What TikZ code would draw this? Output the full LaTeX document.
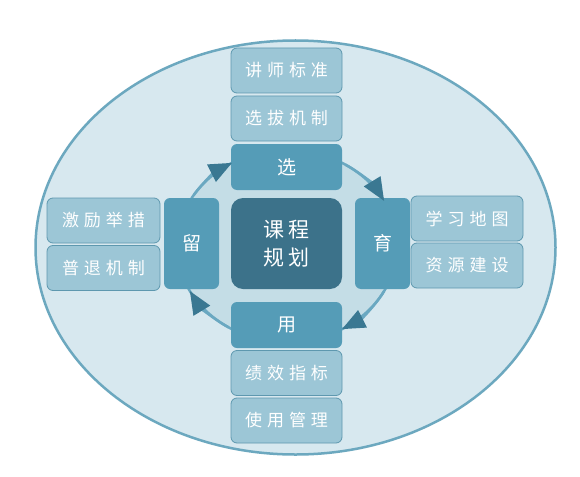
\documentclass[tikz,border=0pt]{standalone}
\usepackage{fontspec}
\newfontfamily\cjk{Noto Sans CJK SC}
\usetikzlibrary{arrows.meta}
\definecolor{outerfill}{HTML}{D7E8EF}
\definecolor{outerline}{HTML}{6CA8BF}
\definecolor{ringfill}{HTML}{C4DDE6}
\definecolor{ringline}{HTML}{6AA8C1}
\definecolor{midbox}{HTML}{559CB7}
\definecolor{darkbox}{HTML}{3C728A}
\definecolor{lightbox}{HTML}{9CC6D6}
\definecolor{lightline}{HTML}{5E98AF}
\definecolor{arrowcol}{HTML}{3A7892}
\newcommand{\gp}{\hspace{5pt}}
\begin{document}
\begin{tikzpicture}[x=1pt,y=-1pt,
  lbox/.style={draw=lightline, line width=0.8pt, fill=lightbox, rounded corners=6pt,
    minimum width=111pt, minimum height=45pt, inner sep=0pt, text=white,
    font=\cjk\fontsize{17}{19}\selectfont},
  mbox/.style={fill=midbox, rounded corners=6pt, inner sep=0pt, text=white,
    font=\cjk\fontsize{19}{21}\selectfont},
  dbox/.style={fill=darkbox, rounded corners=12pt, inner sep=0pt, text=white,
    minimum width=111pt, minimum height=91pt, align=center,
    font=\cjk\fontsize{21}{28}\selectfont},
  cyc/.style={ringline, line width=2.5pt, -{Triangle[length=23pt,width=19pt,fill=arrowcol,color=arrowcol]}}
]
\useasboundingbox (0,0) rectangle (580,476);
\fill[white] (0,0) rectangle (580,476);
% outer ellipse
\draw[fill=outerfill, draw=outerline, line width=2.5pt] (295.5,247.5) ellipse [x radius=260, y radius=207];
% ring
\coordinate (rc) at (287,246);
\draw[fill=ringfill, draw=ringline, line width=2.5pt] (rc) ellipse [x radius=110, y radius=96];
% middle boxes
\node[mbox, minimum width=111pt, minimum height=46pt] (xuan) at (286.5,167) {选};
\node[mbox, minimum width=111pt, minimum height=46pt] (yong) at (286.5,325) {用};
\node[mbox, minimum width=55pt, minimum height=91pt] (liu) at (191.5,243.5) {留};
\node[mbox, minimum width=55pt, minimum height=91pt] (yu) at (382.5,243.5) {育};
\node[dbox] (center) at (286.5,243.5) {课\hspace{4pt}程\\规\hspace{4pt}划};
% light boxes
\node[lbox] (t1) at (286.5,70.5) {讲\gp 师\gp 标\gp 准};
\node[lbox] (t2) at (286.5,118.5) {选\gp 拔\gp 机\gp 制};
\node[lbox] (b1) at (286.5,373) {绩\gp 效\gp 指\gp 标};
\node[lbox] (b2) at (286.5,420.5) {使\gp 用\gp 管\gp 理};
\node[lbox, minimum width=113pt] (l1) at (103.5,220.5) {激\gp 励\gp 举\gp 措};
\node[lbox, minimum width=113pt] (l2) at (103.5,268) {普\gp 退\gp 机\gp 制};
\node[lbox, minimum width=112pt] (r1) at (467,218.5) {学\gp 习\gp 地\gp 图};
\node[lbox, minimum width=112pt] (r2) at (467,265.5) {资\gp 源\gp 建\gp 设};
% cycle arrowheads
\draw[cyc] (rc) ++(212:110 and 96) arc[start angle=212, end angle=240, x radius=110, y radius=96];
\draw[cyc] (rc) ++(302:110 and 96) arc[start angle=302, end angle=332, x radius=110, y radius=96];
\draw[cyc] (rc) ++(28:110 and 96) arc[start angle=28, end angle=60, x radius=110, y radius=96];
\draw[cyc] (rc) ++(122:110 and 96) arc[start angle=122, end angle=152, x radius=110, y radius=96];
\end{tikzpicture}
\end{document}
